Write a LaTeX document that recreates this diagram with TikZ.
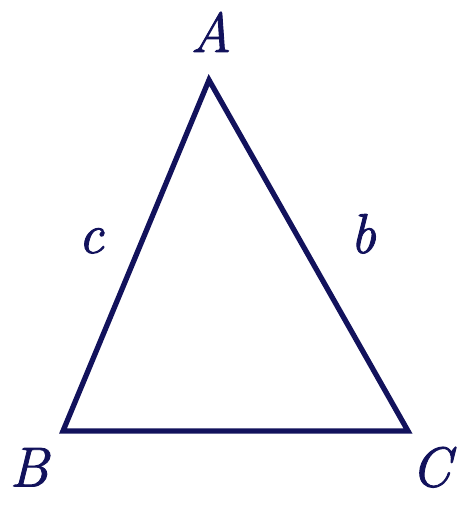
\documentclass[tikz,border=0pt]{standalone}
\usepackage{fontspec}
\usepackage{tikz}
\newfontfamily\lblfont[FakeBold=1.6]{Latin Modern Roman}
\definecolor{navy}{RGB}{18,18,92}
\tikzset{side/.style={draw=navy, line width=3pt},
         vlabel/.style={text=navy, inner sep=0pt, anchor=base, font=\lblfont\fontsize{32}{38}\selectfont\itshape}}

\begin{document}
\begin{tikzpicture}
        \useasboundingbox (0,0) rectangle (9.36,10.28);
        \coordinate (A) at (4.18,8.68);
        \coordinate (B) at (1.26,1.66);
        \coordinate (C) at (8.16,1.66);
        \draw[side] (A) -- (B) -- (C) -- cycle;
        \node[vlabel] (la) at (4.22,9.24) {A};
        \node[vlabel] (lb) at (0.58,0.55) {B};
        \node[vlabel] (lc) at (8.62,0.55) {C};
        \node[vlabel] (sc) at (1.82,5.22) {c};
        \node[vlabel] (sb) at (7.26,5.22) {b};
    \end{tikzpicture}
\end{document}
